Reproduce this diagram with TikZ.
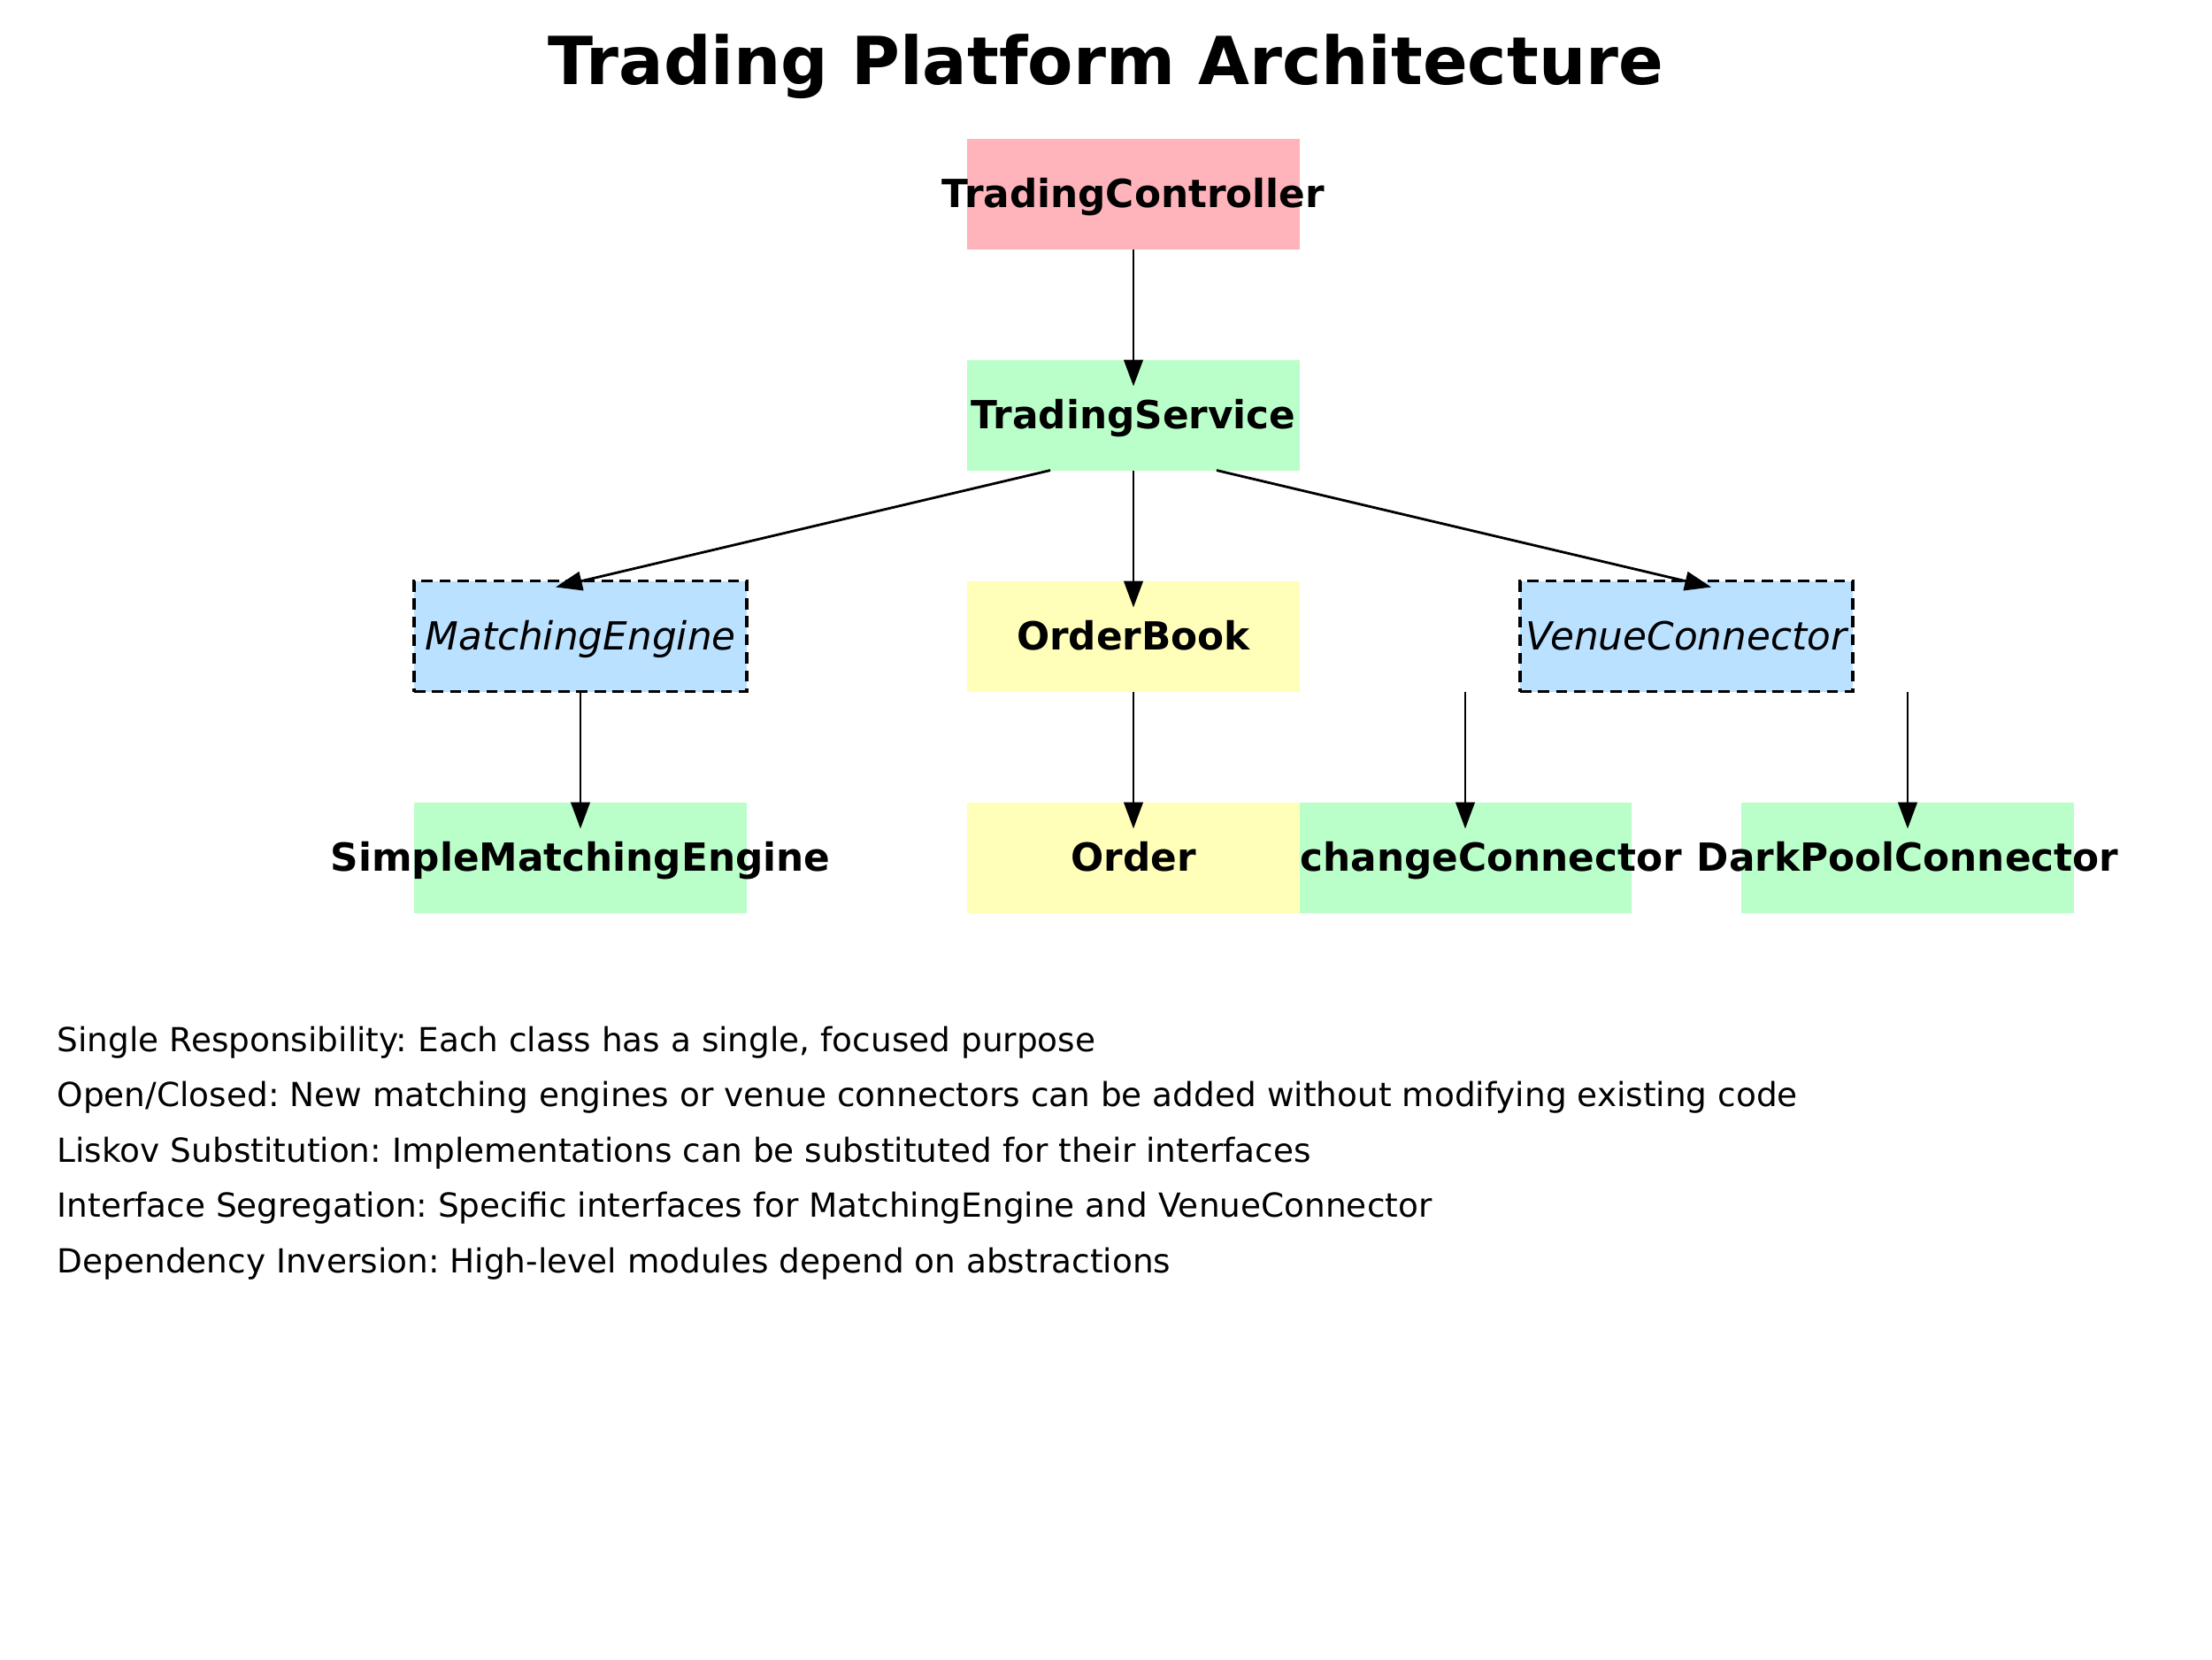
\documentclass[tikz,border=0pt]{standalone}
\usepackage{fontspec}
\setmainfont{DejaVu Sans}
\usepackage{xcolor}
\usepackage{tikz}
\usetikzlibrary{arrows.meta,calc}

\definecolor{ctrlpink}{HTML}{FFB3BA}
\definecolor{svcgreen}{HTML}{BAFFC9}
\definecolor{ifaceblue}{HTML}{BAE1FF}
\definecolor{datayellow}{HTML}{FFFFBA}
\newcommand{\clsname}[1]{\makebox[0pt]{#1}}
\frenchspacing

\begin{document}
\begin{tikzpicture}[
   cls/.style = {rectangle, inner sep=0pt, outer sep=0pt,
      minimum width=3.76cm, minimum height=1.25cm,
      text height=9pt, text depth=0pt,
      font=\fontsize{12.45}{14}\selectfont\bfseries},
   iface/.style = {cls, draw, dash pattern=on 3.6pt off 2.2pt, line width=1.1pt,
      fill=ifaceblue, font=\fontsize{12.45}{14}\selectfont\itshape},
   dep/.style = {-{Triangle[length=8.5pt,width=6.1pt]}, line width=0.8pt},
   note/.style = {anchor=base west, inner sep=0pt,
      font=\fontsize{10.65}{13}\selectfont}]
   \useasboundingbox (0,0) rectangle (25,-18.75);
   \node[anchor=base, inner sep=0pt, font=\fontsize{21.3}{26}\selectfont\bfseries]
      (title) at (12.5,-0.95) {Trading Platform Architecture};
   \node[cls, fill=ctrlpink] (tc) at (12.81,-2.19) {\clsname{TradingController}};
   \node[cls, fill=svcgreen] (ts) at (12.81,-4.69) {\clsname{TradingService}};
   \node[iface] (me) at (6.56,-7.19) {\clsname{MatchingEngine}};
   \node[cls, fill=datayellow] (ob) at (12.81,-7.19) {\clsname{OrderBook}};
   \node[iface] (vc) at (19.06,-7.19) {\clsname{VenueConnector}};
   \node[cls, fill=svcgreen] (sme) at (6.56,-9.69) {\clsname{SimpleMatchingEngine}};
   \node[cls, fill=svcgreen] (exch) at (16.56,-9.69) {\clsname{ExchangeConnector}};
   \node[cls, fill=datayellow] (ord) at (12.81,-9.69) {\clsname{Order}};
   \node[cls, fill=svcgreen] (dpc) at (21.56,-9.69) {\clsname{DarkPoolConnector}};

   \draw[dep] (tc.south) -- ($(ts.north)+(0,-0.3)$);
   \draw[dep] ($(ts.south)+(-0.94,0)$) -- ($(me.north)+(-0.28,-0.07)$);
   \draw[dep] (ts.south) -- ($(ob.north)+(0,-0.3)$);
   \draw[dep] ($(ts.south)+(0.94,0)$) -- ($(vc.north)+(0.28,-0.07)$);
   \draw[dep] (me.south) -- ($(sme.north)+(0,-0.3)$);
   \draw[dep] (ob.south) -- ($(ord.north)+(0,-0.3)$);
   \draw[dep] (vc.south -| exch) -- ($(exch.north)+(0,-0.3)$);
   \draw[dep] (vc.south -| dpc) -- ($(dpc.north)+(0,-0.3)$);

   \node[note] (srp) at (0.64,-11.88) {Single Responsibility: Each class has a single, focused purpose};
   \node[note] (ocp) at (0.64,-12.50) {Open/Closed: New matching engines or venue connectors can be added without modifying existing code};
   \node[note] (lsp) at (0.64,-13.13) {Liskov Substitution: Implementations can be substituted for their interfaces};
   \node[note] (isp) at (0.64,-13.75) {Interface Segregation: Specific interfaces for MatchingEngine and VenueConnector};
   \node[note] (dip) at (0.64,-14.38) {Dependency Inversion: High-level modules depend on abstractions};
\end{tikzpicture}
\end{document}
